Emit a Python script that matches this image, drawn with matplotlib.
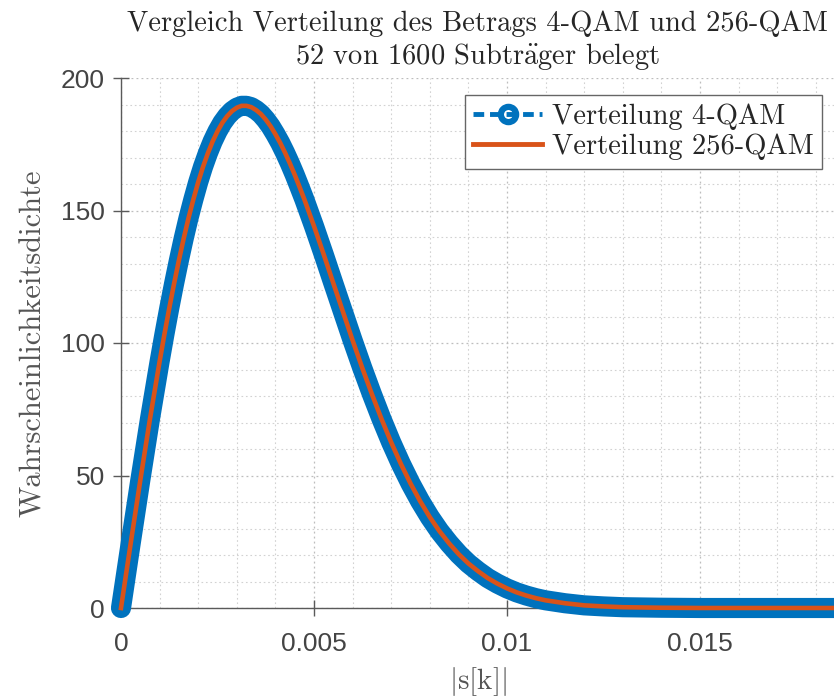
import numpy as np
import matplotlib
matplotlib.use("Agg")
import matplotlib.pyplot as plt
from matplotlib.lines import Line2D
from matplotlib.ticker import MultipleLocator, FixedLocator

# |s[k]| sample positions (finer around the peak)
x_abs = [0.0, 0.00025, 0.0005, 0.00075, 0.001, 0.001125, 0.00125, 0.001375,
         0.0015, 0.001625, 0.00175, 0.001875, 0.002, 0.002125, 0.00225,
         0.002375, 0.0025, 0.002625, 0.00275, 0.002875, 0.003, 0.003125,
         0.00325, 0.003375, 0.0035, 0.003625, 0.00375, 0.003875, 0.004,
         0.004125, 0.00425, 0.004375, 0.0045, 0.004625, 0.00475, 0.005,
         0.00525, 0.0055, 0.00575, 0.006, 0.00625, 0.0065, 0.00675, 0.007,
         0.00725, 0.0075, 0.00775, 0.008, 0.00825, 0.0085, 0.00875, 0.009,
         0.00925, 0.0095, 0.00975, 0.01, 0.01025, 0.0105, 0.01075, 0.011,
         0.0115, 0.012, 0.0125, 0.013, 0.0135, 0.014, 0.015, 0.016, 0.017,
         0.018, 0.019]

# Estimated density of the magnitude, 4-QAM
pdf_4qam = [0.0, 24.3, 48.2, 71.3, 93.0, 103.3, 113.1, 122.4,
            131.2, 139.5, 147.2, 154.2, 160.7, 166.5, 171.6,
            176.1, 179.9, 183.1, 185.6, 187.5, 188.8, 189.5,
            189.5, 189.0, 187.9, 186.4, 184.3, 181.8, 178.8,
            175.5, 171.8, 167.8, 163.5, 158.9, 154.2, 144.1,
            133.5, 122.6, 111.8, 101.0, 90.6, 80.7, 71.3, 62.5,
            54.4, 47.0, 40.3, 34.3, 29.0, 24.4, 20.3, 16.8,
            13.9, 11.3, 9.2, 7.4, 5.9, 4.7, 3.7, 2.9,
            1.8, 1.0, 0.6, 0.3, 0.2, 0.1, 0.0, 0.0, 0.0,
            0.0, 0.0]

# Estimated density of the magnitude, 256-QAM
pdf_256qam = [0.0, 24.3, 48.2, 71.3, 93.0, 103.3, 113.1, 122.4,
              131.2, 139.5, 147.2, 154.2, 160.7, 166.5, 171.6,
              176.1, 179.9, 183.1, 185.6, 187.5, 188.8, 189.5,
              189.5, 189.0, 187.9, 186.4, 184.3, 181.8, 178.8,
              175.5, 171.8, 167.8, 163.5, 158.9, 154.2, 144.1,
              133.5, 122.6, 111.8, 101.0, 90.6, 80.7, 71.3, 62.5,
              54.4, 47.0, 40.3, 34.3, 29.0, 24.4, 20.3, 16.8,
              13.9, 11.3, 9.2, 7.4, 5.9, 4.7, 3.7, 2.9,
              1.8, 1.0, 0.6, 0.3, 0.2, 0.1, 0.0, 0.0, 0.0,
              0.0, 0.0]

x_ticks = [0, 0.005, 0.01, 0.015]
x_ticklabels = ["0", "0.005", "0.01", "0.015"]
y_ticks = [0, 50, 100, 150, 200]
y_ticklabels = ["0", "50", "100", "150", "200"]

title_text = ("Vergleich Verteilung des Betrags 4-QAM und 256-QAM\n"
              r"52 von 1600 Subtr$\ddot{\rm a}$ger belegt")
legend_labels = ["Verteilung 4-QAM", "Verteilung 256-QAM"]

BLUE = "#0072BD"
ORANGE = "#D95319"
SERIF = ["cmr10", "DejaVu Serif"]

plt.rcParams["mathtext.fontset"] = "cm"
plt.rcParams["axes.formatter.use_mathtext"] = True

fig = plt.figure(figsize=(8.34, 7.0), dpi=100)
ax = fig.add_axes([121 / 834, 92 / 700, 1 - 121 / 834, 530 / 700])

# 4-QAM: dense circle markers merge into a thick band
ax.plot(x_abs, pdf_4qam, color=BLUE, lw=14.5, solid_capstyle="round",
        solid_joinstyle="round", clip_on=False, zorder=3)
# 256-QAM on top
ax.plot(x_abs, pdf_256qam, color=ORANGE, lw=3.3, solid_joinstyle="round",
        clip_on=False, zorder=4)

ax.set_xlim(0, (834 - 121) / 193 * 0.005)
ax.set_ylim(0, 200)

ax.xaxis.set_major_locator(FixedLocator(x_ticks))
ax.set_xticklabels(x_ticklabels)
ax.yaxis.set_major_locator(FixedLocator(y_ticks))
ax.set_yticklabels(y_ticklabels)
ax.xaxis.set_minor_locator(MultipleLocator(0.001))
ax.yaxis.set_minor_locator(MultipleLocator(10))

for side in ("top", "right"):
    ax.spines[side].set_visible(False)
for side in ("left", "bottom"):
    ax.spines[side].set_color("#5a5a5a")
    ax.spines[side].set_linewidth(1.0)

ax.tick_params(which="major", direction="inout", length=11, width=1,
               color="#5a5a5a", labelcolor="#444444", labelsize=19,
               labelfontfamily="Liberation Sans")
ax.tick_params(axis="x", which="major", pad=12)
ax.tick_params(axis="y", which="major", pad=6)
ax.tick_params(which="minor", length=0)

ax.grid(True, which="major", linestyle=(0, (1.5, 2.5)), color="#bdbdbd", lw=0.9)
ax.grid(True, which="minor", linestyle=(0, (1.5, 2.5)), color="#d2d2d2", lw=0.8)
ax.set_axisbelow(True)

ax.set_title(title_text, family=SERIF, fontsize=20.5, color="#262626",
             linespacing=1.2, pad=10)
ax.set_ylabel("Wahrscheinlichkeitsdichte", family=SERIF, fontsize=22,
              color="#555555", labelpad=10)
ax.set_xlabel(r"$|\mathrm{s}[\mathrm{k}]|$", fontsize=21, color="#555555",
              labelpad=6)

handles = [
    Line2D([], [], color=BLUE, lw=3.5, linestyle=(0, (2.2, 1.2)), marker="o",
           markersize=11, markeredgewidth=4.5, markerfacecolor="none",
           markeredgecolor=BLUE),
    Line2D([], [], color=ORANGE, lw=3.5),
]
leg = ax.legend(handles, legend_labels, loc="upper right",
                bbox_to_anchor=(822 / 834, (700 - 95) / 700),
                bbox_transform=fig.transFigure,
                prop={"family": SERIF, "size": 20.5}, handlelength=2.4,
                handletextpad=0.35, borderpad=0.3, labelspacing=0.12,
                borderaxespad=0, fancybox=False, framealpha=1,
                edgecolor="#666666")
leg.get_frame().set_linewidth(1.0)
for t in leg.get_texts():
    t.set_color("#262626")

fig.savefig("out.png", dpi=100)
